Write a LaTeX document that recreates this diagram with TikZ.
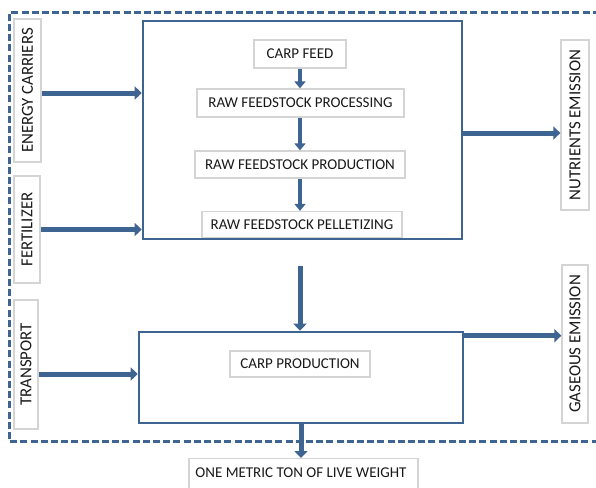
\documentclass[tikz,border=0pt]{standalone}
\usepackage{fontspec}
\setmainfont{Carlito}
\usetikzlibrary{arrows.meta}
\definecolor{bl}{RGB}{62,100,146}
\definecolor{gb}{RGB}{212,212,212}
\definecolor{tx}{RGB}{25,25,25}
\tikzset{
  lbl/.style={draw=gb, line width=1.3pt, fill=white, inner sep=0pt, text=tx,
    font=\fontsize{15}{17}\selectfont},
  vlbl/.style={lbl, rotate=90, font=\fontsize{16.8}{18}\selectfont},
  frame/.style={draw=bl, line width=2.6pt, inner sep=0pt},
  dashframe/.style={draw=bl, line width=3pt, dash pattern=on 7pt off 3.2pt},
  fat/.style={draw=bl, line width=5pt, -{Triangle[length=7pt,width=13pt]}},
  slim/.style={draw=bl, line width=4pt, -{Triangle[length=7pt,width=11pt]}},
}
\begin{document}
\begin{tikzpicture}[x=1pt,y=-1pt]
\useasboundingbox (0,0) rectangle (596,487);
\clip (0,0) rectangle (596,487);
% dashed system boundary
\draw[dashframe] (610,13) -- (9,13) -- (9,441) -- (610,441);
% process boxes
\node[frame, minimum width=319, minimum height=218] (big) at (302.5,130) {};
\node[frame, minimum width=324, minimum height=91] (lower) at (301,377.5) {};
% inputs
\node[vlbl, minimum width=143, minimum height=27] (energy) at (27.5,90.5) {ENERGY CARRIERS};
\node[vlbl, minimum width=107, minimum height=26] (fert) at (27,229.5) {FERTILIZER};
\node[vlbl, minimum width=129, minimum height=24] (trans) at (26,364.5) {TRANSPORT};
% outputs
\node[vlbl, minimum width=170, minimum height=28] (nutr) at (575,125) {NUTRIENTS EMISSION};
\node[vlbl, minimum width=158, minimum height=26] (gas) at (575,344) {GASEOUS EMISSION};
% inner steps
\node[lbl, minimum width=92, minimum height=28] (feed) at (300,54) {CARP FEED};
\node[lbl, minimum width=207, minimum height=28] (proc) at (300.5,103) {RAW FEEDSTOCK PROCESSING};
\node[lbl, minimum width=210, minimum height=27] (prod) at (300,164.5) {RAW FEEDSTOCK PRODUCTION};
\node[lbl, minimum width=200, minimum height=26] (pell) at (302,224.5) {RAW FEEDSTOCK PELLETIZING};
\node[lbl, minimum width=140, minimum height=26] (carp) at (300,364) {CARP PRODUCTION};
\node[lbl, minimum width=229, minimum height=50, anchor=north] (out) at (303.5,458) {};
\node[text=tx, font=\fontsize{15}{17}\selectfont] (outtxt) at (301,473) {ONE METRIC TON OF LIVE WEIGHT};
% arrows
\draw[fat] ([yshift=-2.5pt]energy.south) -- ([yshift=-2.5pt]energy.south -| big.west);
\draw[fat] (fert.south) -- (fert.south -| big.west);
\draw[fat] ([yshift=-9.5pt]trans.south) -- ([yshift=-9.5pt]trans.south -| lower.west);
\draw[fat] ([yshift=-3pt]big.east) -- ([yshift=-3pt]big.east -| nutr.north);
\draw[fat] ([yshift=-5pt]lower.north east) -- ([yshift=-5pt]lower.north east -| gas.north);
\draw[slim] (feed.south) -- (feed.south |- proc.north);
\draw[slim] (feed.south |- proc.south) -- (feed.south |- prod.north);
\draw[slim] (feed.south |- prod.south) -- (feed.south |- pell.north);
\coordinate (bigout) at (300,266);
\draw[fat] (bigout) -- (bigout |- lower.north);
\draw[fat] (301,423) -- (301,458);
\end{tikzpicture}
\end{document}
